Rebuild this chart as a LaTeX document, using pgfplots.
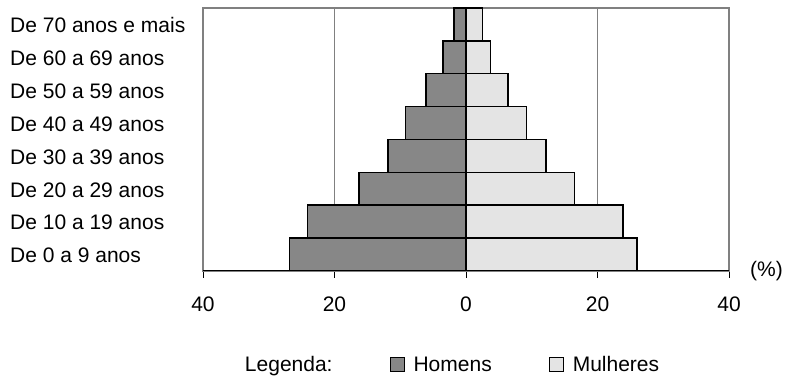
\documentclass[border=0pt]{standalone}
\usepackage{pgfplots}
\pgfplotsset{compat=1.18}
\usepackage{fontspec}
\setmainfont{Liberation Sans}
\definecolor{homem}{RGB}{135,135,135}
\definecolor{mulher}{RGB}{228,228,228}
\definecolor{frame}{RGB}{128,128,128}
\newcommand{\lblfont}{\fontsize{21}{24}\selectfont}
\begin{document}
\begin{tikzpicture}
\begin{axis}[
  name=ax,
  scale only axis,
  width=526pt, height=263pt,
  xmin=-40, xmax=40, ymin=-0.5, ymax=7.5,
  xtick={-40,-20,0,20,40},
  xticklabels={40,20,0,20,40},
  ytick={0,1,2,3,4,5,6,7},
  yticklabels={De 0 a 9 anos,De 10 a 19 anos,De 20 a 29 anos,De 30 a 39 anos,De 40 a 49 anos,De 50 a 59 anos,De 60 a 69 anos,De 70 anos e mais},
  /pgf/number format/assume math mode=true,
  tick label style={font=\lblfont},
  yticklabel style={anchor=west, inner sep=0pt, xshift=-186pt, yshift=-1pt},
  xticklabel style={yshift=-15pt},
  tick align=outside,
  major tick length=7pt,
  xtick pos=bottom,
  ytick style={draw=none},
  xtick style={black, line width=0.8pt},
  axis line style={frame, line width=1.2pt},
  xmajorgrids,
  grid style={frame, line width=0.8pt},
  xbar, bar width=1, bar shift=0pt,
  xlabel={(\%)},
  xlabel style={at={(axis description cs:1,0)}, anchor=west, inner sep=0pt, xshift=21pt, font=\lblfont},
  legend columns=3,
  legend style={draw=none, font=\lblfont, inner sep=0pt, outer sep=0pt,
    at={(axis description cs:0.0627,-0.357)}, anchor=west,
    nodes={inner sep=0pt},
    /tikz/every odd column/.append style={column sep=9pt},
    /tikz/every even column/.append style={column sep=57pt}},
]
\addlegendimage{empty legend}
\addlegendentry{Legenda:\hspace{9pt}}
\addplot[fill=homem, draw=black, line width=1.5pt,
  legend image code/.code={\draw[fill=homem, draw=black, line width=1pt] (0pt,-7pt) rectangle (14pt,7pt);}]
  coordinates {(-26.85,0) (-24.1,1) (-16.3,2) (-11.9,3) (-9.2,4) (-6.1,5) (-3.5,6) (-1.8,7)};
\addlegendentry{Homens}
\addplot[fill=mulher, draw=black, line width=1.5pt,
  legend image code/.code={\draw[fill=mulher, draw=black, line width=1pt] (0pt,-7pt) rectangle (14pt,7pt);}]
  coordinates {(26.0,0) (23.85,1) (16.5,2) (12.2,3) (9.2,4) (6.4,5) (3.7,6) (2.5,7)};
\addlegendentry{Mulheres}
\draw[black, line width=1pt] (rel axis cs:0,0) -- (rel axis cs:1,0);
\end{axis}
\pgfresetboundingbox
\path[use as bounding box] ([xshift=-203pt,yshift=-105pt]ax.south west) rectangle ([xshift=60pt,yshift=8pt]ax.north east);
\end{tikzpicture}
\end{document}
